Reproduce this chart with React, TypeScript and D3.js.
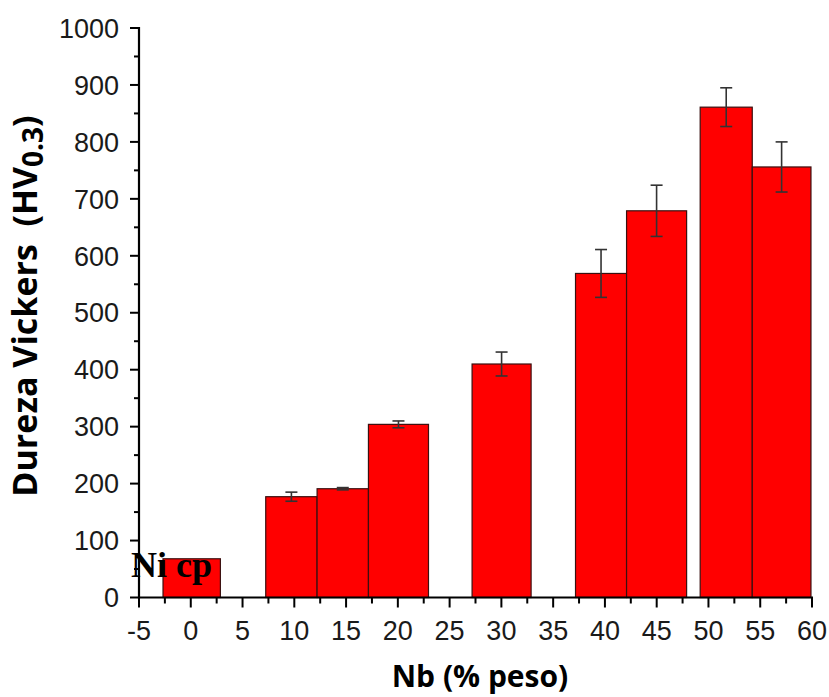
import React from "react";
import * as d3 from "d3";

const categories = ["Ni cp", "10", "15", "20", "30", "40", "45", "50", "55"];
const barStart = [-2.68, 7.24, 12.2, 17.16, 27.17, 37.16, 42.09, 49.2, 54.23];
const barEnd = [2.86, 12.2, 17.16, 22.96, 32.87, 42.09, 47.89, 54.23, 59.9];
const hardness = [68, 177, 191, 304, 410, 569, 679, 861, 756];
const hardnessError = [0, 8, 2, 6, 21, 42, 45, 34, 44];
const xTicks = [-5, 0, 5, 10, 15, 20, 25, 30, 35, 40, 45, 50, 55, 60];
const yTicks = [0, 100, 200, 300, 400, 500, 600, 700, 800, 900, 1000];

const W = 829;
const H = 697;
const x = d3.scaleLinear().domain([-5, 60]).range([139, 812]);
const y = d3.scaleLinear().domain([0, 1000]).range([597.5, 28]);

export default function App() {
  const xMinor = d3.range(-5, 60.01, 2.5);
  const yMinor = d3.range(0, 1000.01, 50);
  const tickFont = "'Liberation Sans', Arial, sans-serif";
  return (
    <div style={{ position: "absolute", left: 0, top: 0 }}>
      <svg width={W} height={H} style={{ display: "block", background: "#fff" }}>
        {/* bars */}
        {categories.map((c, i) => (
          <rect
            key={c}
            x={x(barStart[i])}
            y={y(hardness[i])}
            width={x(barEnd[i]) - x(barStart[i])}
            height={y(0) - y(hardness[i])}
            fill="#ff0000"
            stroke="#3a1010"
            strokeWidth={1.2}
          />
        ))}
        {/* error bars */}
        {categories.map((c, i) => {
          if (!hardnessError[i]) return null;
          const cx = (x(barStart[i]) + x(barEnd[i])) / 2;
          const top = y(hardness[i] + hardnessError[i]);
          const bot = y(hardness[i] - hardnessError[i]);
          return (
            <g key={"e" + c} stroke="#333" strokeWidth={1.6}>
              <line x1={cx} x2={cx} y1={top} y2={bot} />
              <line x1={cx - 6} x2={cx + 6} y1={top} y2={top} />
              <line x1={cx - 6} x2={cx + 6} y1={bot} y2={bot} />
            </g>
          );
        })}
        {/* x axis */}
        <line x1={x(-5) - 1} x2={x(60) + 1} y1={y(0)} y2={y(0)} stroke="#000" strokeWidth={2.2} />
        {xMinor.map((v) => (
          <line key={"xm" + v} x1={x(v)} x2={x(v)} y1={y(0)} y2={y(0) + (v % 5 === 0 ? 10 : 6)} stroke="#000" strokeWidth={2} />
        ))}
        {xTicks.map((v) => (
          <text key={"xt" + v} x={x(v)} y={639.5} textAnchor="middle" fontFamily={tickFont} fontSize={27} fill="#1a1a1a">
            {v}
          </text>
        ))}
        {/* y axis */}
        <line x1={x(-5)} x2={x(-5)} y1={y(1000) - 1} y2={y(0) + 1} stroke="#000" strokeWidth={2.2} />
        {yMinor.map((v) => (
          <line key={"ym" + v} x1={x(-5)} x2={x(-5) - (v % 100 === 0 ? 9 : 5)} y1={y(v)} y2={y(v)} stroke="#000" strokeWidth={2} />
        ))}
        {yTicks.map((v) => (
          <text key={"yt" + v} x={119} y={y(v)} dy="0.36em" textAnchor="end" fontFamily={tickFont} fontSize={27} fill="#1a1a1a">
            {v}
          </text>
        ))}
        {/* label on first bar */}
        <text x={131} y={577} fontFamily="'Liberation Serif', 'Times New Roman', serif" fontWeight="bold" fontSize={36} fill="#000">
          {categories[0]}
        </text>
        {/* axis titles */}
        <text x={480} y={687} textAnchor="middle" fontFamily="'Open Sans', sans-serif" fontWeight="bold" fontSize={30} fill="#000">
          Nb (% peso)
        </text>
        <text
          transform="translate(37,306) rotate(-90)"
          textAnchor="middle"
          fontFamily="'Open Sans', sans-serif"
          fontWeight="bold"
          fontSize={34}
          fill="#000"
          style={{ whiteSpace: "pre" }}
        >
          {"Dureza Vickers  (HV"}
          <tspan dy={6} fontSize={28}>0.3</tspan>
          <tspan dy={-6}>)</tspan>
        </text>
      </svg>
    </div>
  );
}
